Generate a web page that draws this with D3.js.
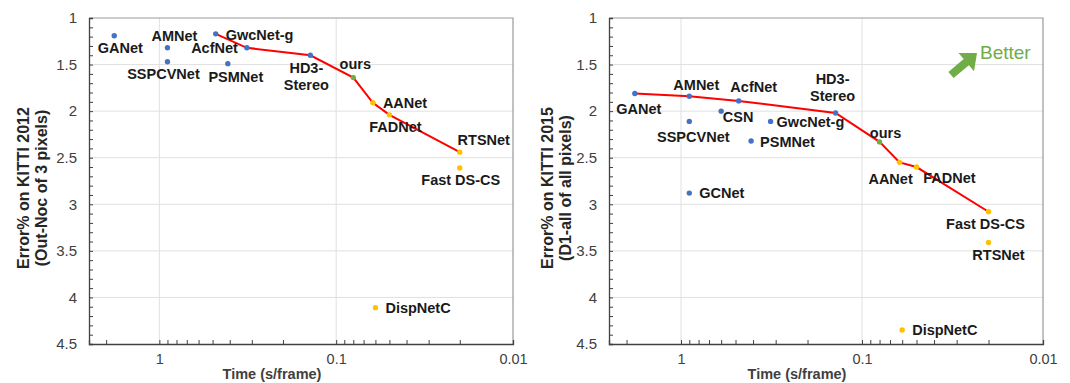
<!DOCTYPE html>
<html>
<head>
<meta charset="utf-8">
<script src="https://cdn.jsdelivr.net/npm/d3@7"></script>
<style>
  body { margin: 0; background: #fff; }
  svg { display: block; font-family: Arial, "Liberation Sans", sans-serif; }
</style>
</head>
<body>
<div id="chart"></div>
<script>
// KITTI 2012 panel
var names2012 = ["GANet", "AMNet", "SSPCVNet", "GwcNet-g", "AcfNet", "PSMNet", "HD3-Stereo",
                 "ours", "AANet", "FADNet", "RTSNet", "Fast DS-CS", "DispNetC"];
var time2012  = [1.8, 0.9, 0.9, 0.48, 0.32, 0.41, 0.14, 0.08, 0.062, 0.05, 0.02, 0.02, 0.06];
var error2012 = [1.19, 1.32, 1.47, 1.17, 1.32, 1.49, 1.40, 1.64, 1.91, 2.04, 2.44, 2.61, 4.11];
var front2012 = ["GwcNet-g", "AcfNet", "HD3-Stereo", "ours", "AANet", "FADNet", "RTSNet"];

// KITTI 2015 panel
var names2015 = ["GANet", "AMNet", "AcfNet", "CSN", "SSPCVNet", "GwcNet-g", "PSMNet", "GCNet",
                 "HD3-Stereo", "ours", "AANet", "FADNet", "Fast DS-CS", "RTSNet", "DispNetC"];
var time2015  = [1.8, 0.9, 0.48, 0.6, 0.9, 0.32, 0.41, 0.9, 0.14, 0.08, 0.062, 0.05, 0.02, 0.02, 0.06];
var error2015 = [1.81, 1.84, 1.89, 2.00, 2.11, 2.11, 2.32, 2.88, 2.02, 2.33, 2.55, 2.60, 3.08, 3.41, 4.35];
var front2015 = ["GANet", "AMNet", "AcfNet", "HD3-Stereo", "ours", "AANet", "FADNet", "Fast DS-CS"];

// groups -> colour
var fastNets = ["AANet", "FADNet", "RTSNet", "Fast DS-CS", "DispNetC"];
var xTickLabels = [1, 0.1, 0.01];
var yTickLabels = [1, 1.5, 2, 2.5, 3, 3.5, 4, 4.5];

function colorOf(name) {
    if (name === "ours") return "#70AD47";
    if (fastNets.indexOf(name) >= 0) return "#FFC000";
    return "#4472C4";
}

// label placement: [dx, dy, anchor] relative to the point
var labels2012 = {
    "GANet": [6, 12, "middle"], "AMNet": [7, -12, "middle"], "SSPCVNet": [-4, 12, "middle"],
    "GwcNet-g": [10, 1, "start"], "AcfNet": [-9, 0, "end"], "PSMNet": [8, 13, "middle"],
    "HD3-Stereo": [-4, 13, "middle"], "ours": [2, -14, "middle"], "AANet": [10, 0, "start"],
    "FADNet": [6, 12, "middle"], "RTSNet": [24, -12, "middle"], "Fast DS-CS": [1, 12, "middle"],
    "DispNetC": [10, 0, "start"]
};
var labels2015 = {
    "GANet": [4, 15, "middle"], "AMNet": [7, -11, "middle"], "AcfNet": [15, -14, "middle"],
    "CSN": [17, 6, "middle"], "SSPCVNet": [4, 16, "middle"], "GwcNet-g": [6, 1, "start"],
    "PSMNet": [9, 1, "start"], "GCNet": [10, 0, "start"], "HD3-Stereo": [-3, -34, "middle"],
    "ours": [6, -9, "middle"], "AANet": [-9, 17, "middle"], "FADNet": [33, 11, "middle"],
    "Fast DS-CS": [-3, 12, "middle"], "RTSNet": [10, 12, "middle"], "DispNetC": [10, 0, "start"]
};

var svg = d3.select("#chart").append("svg")
    .attr("width", 1070)
    .attr("height", 383);

function drawPanel(opt) {
    var g = svg.append("g");

    var x = d3.scaleLog().domain([2.5, 0.01]).range([opt.left, opt.right]);
    var y = d3.scaleLinear().domain([1, 4.5]).range([opt.top, opt.bottom]);

    // gridlines
    g.selectAll(".hgrid").data(yTickLabels.slice(1, -1)).enter().append("line")
        .attr("x1", opt.left).attr("x2", opt.right)
        .attr("y1", function(d) { return y(d); }).attr("y2", function(d) { return y(d); })
        .attr("stroke", "#e0e0e0").attr("stroke-width", 1);
    g.selectAll(".vgrid").data([1, 0.1]).enter().append("line")
        .attr("x1", function(d) { return x(d); }).attr("x2", function(d) { return x(d); })
        .attr("y1", opt.top).attr("y2", opt.bottom)
        .attr("stroke", "#e0e0e0").attr("stroke-width", 1);

    // top/right frame
    g.append("path")
        .attr("d", "M" + opt.left + "," + opt.top + "H" + opt.right + "V" + opt.bottom)
        .attr("fill", "none").attr("stroke", "#9a9a9a").attr("stroke-width", 1.2);

    // y axis: labels + inside minor ticks
    g.append("g")
        .attr("transform", "translate(" + opt.left + ",0)")
        .call(d3.axisLeft(y).tickValues(yTickLabels).tickSize(0).tickPadding(12)
            .tickFormat(d3.format("")))
        .call(function(a) { a.select(".domain").remove(); })
        .selectAll("text").style("font-size", "15px").attr("fill", "#404040");
    g.append("g")
        .attr("transform", "translate(" + opt.left + ",0)")
        .call(d3.axisRight(y).tickValues(d3.range(0, 36).map(function(i) { return 1 + i / 10; }))
            .tickSize(4).tickFormat(""))
        .call(function(a) {
            a.select(".domain").attr("stroke", "#404040").attr("stroke-width", 1.3);
            a.selectAll("line").attr("stroke", "#404040");
        });

    // x axis: labels + inside minor ticks
    g.append("g")
        .attr("transform", "translate(0," + opt.bottom + ")")
        .call(d3.axisBottom(x).tickValues(xTickLabels).tickSize(0).tickPadding(10)
            .tickFormat(d3.format("")))
        .call(function(a) { a.select(".domain").remove(); })
        .selectAll("text").style("font-size", "14.5px").attr("fill", "#404040");
    g.append("g")
        .attr("transform", "translate(0," + opt.bottom + ")")
        .call(d3.axisTop(x).tickValues(x.ticks()).tickSize(4).tickFormat(""))
        .call(function(a) {
            a.select(".domain").attr("stroke", "#404040").attr("stroke-width", 1.3);
            a.selectAll("line").attr("stroke", "#404040");
        });

    // axis titles
    g.append("text")
        .attr("x", (opt.left + opt.right) / 2 - 29).attr("y", 379)
        .attr("text-anchor", "middle")
        .style("font-size", "14.5px").style("font-weight", "bold").attr("fill", "#404040")
        .text("Time (s/frame)");
    var yt = g.append("text")
        .attr("transform", "translate(" + opt.titleX + ",188) rotate(-90)")
        .attr("text-anchor", "middle")
        .style("font-size", "16px").style("font-weight", "bold").attr("fill", "#262626");
    yt.append("tspan").attr("x", 0).attr("dy", 0).text(opt.title[0]);
    yt.append("tspan").attr("x", 0).attr("dy", 17.5).text(opt.title[1]);

    var data = opt.names.map(function(n, i) {
        return {name: n, time: opt.time[i], error: opt.error[i]};
    });
    var front = opt.front.map(function(n) {
        return data.filter(function(d) { return d.name === n; })[0];
    });

    // Pareto line
    g.append("path")
        .datum(front)
        .attr("fill", "none")
        .attr("stroke", "#FF0000")
        .attr("stroke-width", 2)
        .attr("d", d3.line()
            .x(function(d) { return x(d.time); })
            .y(function(d) { return y(d.error); }));

    // points
    g.selectAll(".dot").data(data).enter().append("circle")
        .attr("cx", function(d) { return x(d.time); })
        .attr("cy", function(d) { return y(d.error); })
        .attr("r", 2.7)
        .attr("fill", function(d) { return colorOf(d.name); });

    // labels
    data.forEach(function(d) {
        var p = opt.labels[d.name];
        var lines = d.name === "HD3-Stereo" ? ["HD3-", "Stereo"] : [d.name];
        var t = g.append("text")
            .attr("text-anchor", p[2])
            .style("font-size", "14.5px").style("font-weight", "bold").attr("fill", "#1a1a1a");
        lines.forEach(function(l, i) {
            t.append("tspan")
                .attr("x", x(d.time) + p[0])
                .attr("y", y(d.error) + p[1] + i * 17)
                .attr("dy", "0.35em")
                .text(l);
        });
    });
    return g;
}

drawPanel({
    left: 89, right: 513, top: 18, bottom: 344, titleX: 29,
    names: names2012, time: time2012, error: error2012, front: front2012, labels: labels2012,
    title: ["Error% on KITTI 2012", "(Out-Noc of 3 pixels)"]
});
var right = drawPanel({
    left: 609, right: 1043, top: 18, bottom: 344, titleX: 553,
    names: names2015, time: time2015, error: error2015, front: front2015, labels: labels2015,
    title: ["Error% on KITTI 2015", "(D1-all of all pixels)"]
});

// "Better" arrow
right.append("polygon")
    .attr("points", "948.4,71.9 953.6,78.1 968.9,65.2 974,71.3 977,53 958.5,52.9 963.7,59")
    .attr("fill", "#70AD47");
right.append("text")
    .attr("x", 980).attr("y", 52).attr("dy", "0.35em")
    .style("font-size", "19px").attr("fill", "#70AD47")
    .text("Better");
</script>
</body>
</html>
